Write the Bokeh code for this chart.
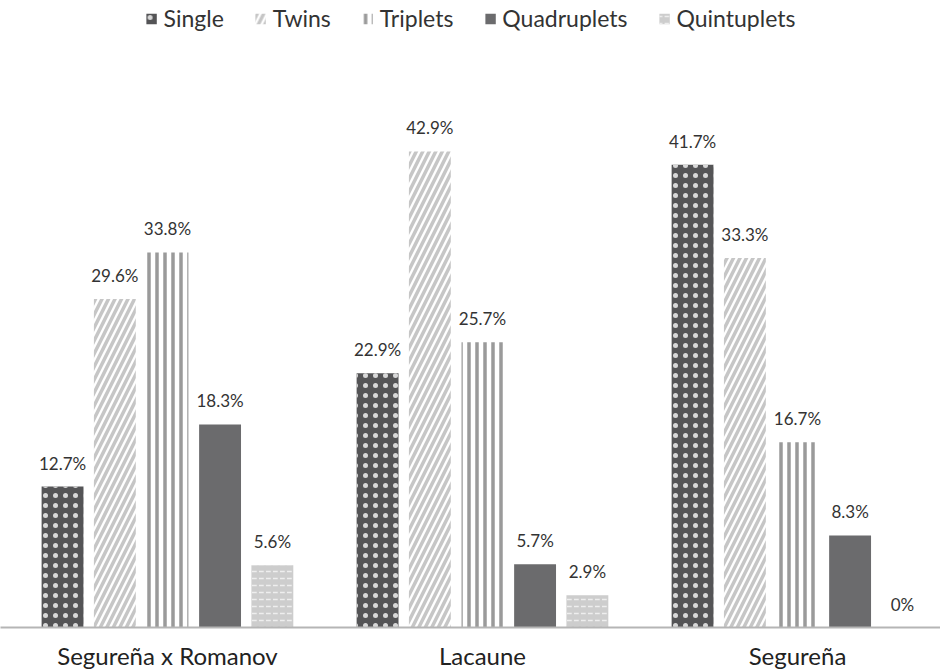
from bokeh.plotting import figure
from bokeh.models import ColumnDataSource, FixedTicker, Legend, LegendItem, Range1d
from bokeh.core.properties import value
from bokeh.embed import file_html
from bokeh.resources import INLINE

# Birth type distribution (%) per breed group
breeds = ["Segureña x Romanov", "Lacaune", "Segureña"]
series = ["Single", "Twins", "Triplets", "Quadruplets", "Quintuplets"]
single = [12.7, 22.9, 41.7]
twins = [29.6, 42.9, 33.3]
triplets = [33.8, 25.7, 16.7]
quadruplets = [18.3, 5.7, 8.3]
quintuplets = [5.6, 2.9, 0.0]
labels = {
    "Single": ["12.7%", "22.9%", "41.7%"],
    "Twins": ["29.6%", "42.9%", "33.3%"],
    "Triplets": ["33.8%", "25.7%", "16.7%"],
    "Quadruplets": ["18.3%", "5.7%", "8.3%"],
    "Quintuplets": ["5.6%", "2.9%", "0%"],
}
values = [single, twins, triplets, quadruplets, quintuplets]

styles = {
    "Single": dict(fill_color="#545456", hatch_pattern="dot", hatch_color="#d8d8d8",
                   hatch_scale=10, hatch_weight=1),
    "Twins": dict(fill_color="white", hatch_pattern="right_diagonal_line",
                  hatch_color="#c6c6c6", hatch_scale=13, hatch_weight=3.5),
    "Triplets": dict(fill_color="white", hatch_pattern="vertical_line",
                     hatch_color="#9a9a9a", hatch_scale=8, hatch_weight=3.5),
    "Quadruplets": dict(fill_color="#6b6b6d", hatch_pattern=None),
    "Quintuplets": dict(fill_color="#cdcdcd", hatch_pattern="horizontal_dash",
                        hatch_color="#eeeeee", hatch_scale=7, hatch_weight=1.5),
}

offsets = [-0.333, -0.167, 0.0, 0.167, 0.333]
bar_w = 0.133
font = value("Lato")

p = figure(width=940, height=672, output_backend="svg", toolbar_location=None,
           x_range=Range1d(-0.53, 2.454), y_range=Range1d(0, 56.5),
           min_border_left=0, min_border_right=0, min_border_top=0,
           min_border_bottom=45, outline_line_color=None)
p.xgrid.visible = False
p.ygrid.visible = False
p.yaxis.visible = False

items = []
for name, vals, off in zip(series, values, offsets):
    xs = [i + off for i in range(len(breeds))]
    src = ColumnDataSource(dict(x=xs, top=vals, label=labels[name]))
    st = dict(styles[name])
    hp = st.pop("hatch_pattern")
    kw = dict(x="x", top="top", bottom=0, width=bar_w, source=src, line_color=None, **st)
    if hp:
        kw["hatch_pattern"] = hp
    r = p.vbar(**kw)
    items.append(LegendItem(label=name, renderers=[r]))
    p.text(x="x", y="top", text="label", source=src, text_align="center",
           text_baseline="bottom", y_offset=-13, text_font=font,
           text_font_size="17px", text_color="#333333")

legend = Legend(items=items, orientation="horizontal", location="top_center",
                border_line_color=None, background_fill_alpha=0,
                label_text_font="Lato", label_text_font_size="23px",
                label_text_color="#333333", glyph_width=13, glyph_height=13,
                label_standoff=6, spacing=30, margin=4)
p.add_layout(legend, "center")

ax = p.xaxis[0]
ax.ticker = FixedTicker(ticks=[0, 1, 2])
ax.major_label_overrides = {0: breeds[0], 1: breeds[1], 2: breeds[2]}
ax.axis_line_color = "#b5b5b5"
ax.axis_line_width = 2
ax.major_tick_line_color = None
ax.minor_tick_line_color = None
ax.major_tick_out = 0
ax.major_tick_in = 0
ax.major_label_standoff = 13
ax.major_label_text_font = "Lato"
ax.major_label_text_font_size = "24px"
ax.major_label_text_color = "#222222"

open("out.html", "w").write(file_html(p, INLINE))
